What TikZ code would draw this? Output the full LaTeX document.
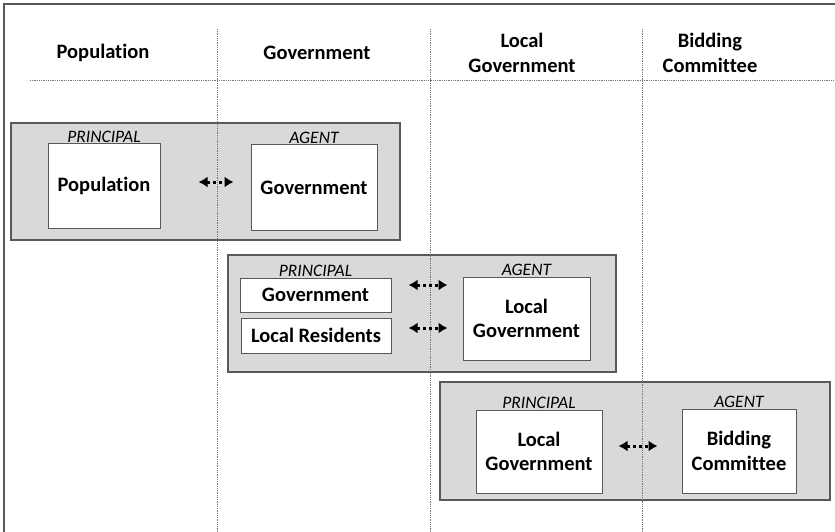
\documentclass[tikz,border=0pt]{standalone}
\usepackage{fontspec}
\setmainfont{Carlito}[Ligatures=NoCommon]
\usepackage{xcolor}
\usepackage{tikz}
\usetikzlibrary{positioning,arrows.meta}
\definecolor{Panel}{RGB}{217, 217, 217}
\definecolor{Edge}{RGB}{89, 89, 89}
\definecolor{Guide}{RGB}{118, 118, 118}
\definecolor{Ink}{RGB}{0, 0, 0}

\begin{document}
\begin{tikzpicture}[
    x=1pt, y=-1pt,
    header/.style={align=center, font=\fontsize{20.5}{24.5}\selectfont\bfseries, text=Ink, inner sep=0pt},
    panel/.style={rectangle, draw=Edge, fill=Panel, line width=1.2pt, inner sep=0pt},
    actor/.style={rectangle, draw=Edge, fill=white, line width=1pt, align=center,
                  font=\fontsize{20.5}{24.5}\selectfont\bfseries, inner sep=0pt},
    role/.style={font=\fontsize{17.5}{20}\selectfont\itshape, text=Ink, inner sep=0pt},
    guide/.style={Guide, densely dotted, line width=0.8pt},
    frame/.style={Edge, line width=1.6pt},
    pair/.style={{Latex[length=9pt,width=11pt]}-{Latex[length=9pt,width=11pt]},
                 dash pattern=on 3pt off 3pt, line width=3pt, Ink},
    node distance=1pt,
]
\useasboundingbox (0,0) rectangle (835,532);
\fill[white] (0,0) rectangle (835,532);

% column headers
\node[header] (hpop) at (103,53) {Population};
\node[header] (hgov) at (317,53) {Government};
\node[header] (hloc) at (522,53) {Local\\Government};
\node[header] (hbid) at (710,53) {Bidding\\Committee};

% panels
\node[panel, minimum width=389pt, minimum height=117pt] (panelA) at (205.5,181.5) {};
\node[panel, minimum width=388pt, minimum height=117pt] (panelB) at (422,313.5) {};
\node[panel, minimum width=390pt, minimum height=118pt] (panelC) at (635,441) {};

% guides
\draw[guide] (30,80) -- (835,80);
\draw[guide] (217,29) -- (217,532);
\draw[guide] (430,29) -- (430,532);
\draw[guide] (642,29) -- (642,532);

% panel A
\node[actor, minimum width=112pt, minimum height=84pt] (pop) at (104,186) {Population};
\node[actor, minimum width=126pt, minimum height=85pt] (gov) at (314,187.5) {Government};
\node[role, above=of pop] (popRole) {PRINCIPAL};
\node[role, above=of gov] (govRole) {AGENT};

% panel B
\node[actor, minimum width=151pt, minimum height=34pt] (govB) at (315.5,295) {Government};
\node[actor, minimum width=150pt, minimum height=35pt] (res) at (316,335.5) {Local Residents};
\node[actor, minimum width=127pt, minimum height=83pt] (locB) at (526.5,318.5) {Local\\Government};
\node[role, above=of govB] (govBRole) {PRINCIPAL};
\node[role, above=of locB] (locBRole) {AGENT};

% panel C
\node[actor, minimum width=126pt, minimum height=83pt] (locC) at (539,451.5) {Local\\Government};
\node[actor, minimum width=114pt, minimum height=84pt] (bid) at (739,451) {Bidding\\Committee};
\node[role, above=of locC] (locCRole) {PRINCIPAL};
\node[role, above=of bid] (bidRole) {AGENT};

% relations
\coordinate (popR) at ([yshift=4pt]pop.east);
\coordinate (govBR) at ([yshift=10pt]govB.east);
\coordinate (resR) at ([yshift=7.5pt]res.east);
\coordinate (locCR) at ([yshift=5.5pt]locC.east);
\draw[pair, shorten <=38pt, shorten >=17pt] (popR) -- (popR -| gov.west);
\draw[pair, shorten <=17pt, shorten >=15pt] (govBR) -- (govBR -| locB.west);
\draw[pair, shorten <=17pt, shorten >=15pt] (resR) -- (resR -| locB.west);
\draw[pair, shorten <=16pt, shorten >=24pt] (locCR) -- (locCR -| bid.west);

% frame
\draw[frame] (835,4) -- (4,4) -- (4,532);
\end{tikzpicture}
\end{document}
